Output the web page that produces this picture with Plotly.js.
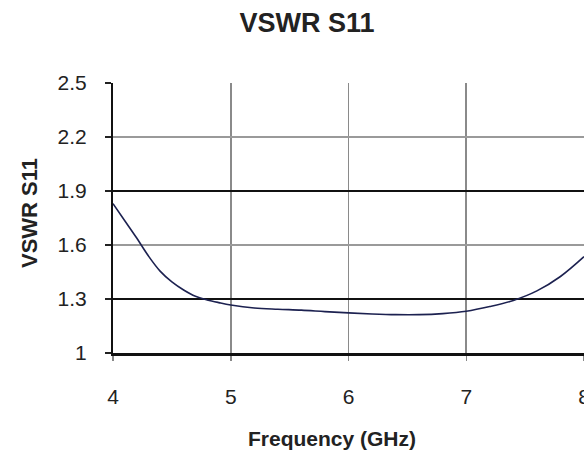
<!DOCTYPE html>
<html>
<head>
<meta charset="utf-8">
<script src="https://cdn.plot.ly/plotly-3.0.1.min.js"></script>
<style>html,body{margin:0;padding:0;background:#fff;}#chart{width:584px;height:451px;}</style>
</head>
<body>
<div id="chart"></div>
<script>
const freqGHz = [4.0, 4.1, 4.2, 4.3, 4.4, 4.5, 4.6, 4.7, 4.8, 4.9, 5.0, 5.2, 5.4, 5.6, 5.8, 6.0, 6.2, 6.4, 6.6, 6.8, 7.0, 7.2, 7.4, 7.6, 7.8, 8.0];
const vswrS11 = [1.83, 1.735, 1.64, 1.54, 1.455, 1.395, 1.35, 1.315, 1.295, 1.28, 1.267, 1.25, 1.243, 1.238, 1.23, 1.223, 1.217, 1.213, 1.213, 1.219, 1.232, 1.258, 1.292, 1.345, 1.425, 1.535];
const xTicks = [4, 5, 6, 7, 8];
const yTicks = [1, 1.3, 1.6, 1.9, 2.2, 2.5];
const yTickText = ['1', '1.3', '1.6', '1.9', '2.2', '2.5'];
const darkGridY = [1.3, 1.9];
const chartTitle = 'VSWR S11';
const xTitle = 'Frequency (GHz)';
const yTitle = 'VSWR S11';

const FONT = 'Liberation Sans, Arial, sans-serif';

const traces = [{
  x: freqGHz, y: vswrS11, type: 'scatter', mode: 'lines',
  line: {color: '#1c2150', width: 1.6, shape: 'spline', smoothing: 1},
  hoverinfo: 'skip', showlegend: false
}];

const layout = {
  width: 584, height: 451,
  margin: {l: 113, r: 0, t: 83, b: 98, pad: 0},
  paper_bgcolor: '#ffffff', plot_bgcolor: '#ffffff',
  font: {family: FONT, color: '#222222'},
  title: {text: '<b>' + chartTitle + '</b>', font: {family: FONT, size: 27, color: '#222222'},
          xref: 'paper', x: (307 - 113) / 471, xanchor: 'center',
          yref: 'container', y: 1 - 23 / 451, yanchor: 'middle'},
  xaxis: {
    range: [4, 8], tickvals: xTicks, ticktext: xTicks.map(String),
    showgrid: true, gridcolor: '#8a8a8a', gridwidth: 1.6,
    ticks: 'outside', ticklen: 5, tickcolor: '#888888', tickwidth: 1.5,
    ticklabelstandoff: 18, ticklabeloverflow: 'allow',
    tickfont: {family: FONT, size: 21, color: '#222222'},
    showline: true, linecolor: '#111111', linewidth: 2.5,
    zeroline: false, fixedrange: true
  },
  yaxis: {
    range: [1, 2.5], tickvals: yTicks, ticktext: yTickText,
    showgrid: true, gridcolor: '#9a9a9a', gridwidth: 2,
    ticks: 'outside', ticklen: 6, tickcolor: '#222222', tickwidth: 1.5,
    ticklabelstandoff: 14,
    tickfont: {family: FONT, size: 21, color: '#222222'},
    showline: true, linecolor: '#111111', linewidth: 2,
    zeroline: false, fixedrange: true
  },
  yaxis2: {
    range: [1, 2.5], overlaying: 'y', tickvals: darkGridY,
    showticklabels: false, showgrid: true, gridcolor: '#111111', gridwidth: 1.3,
    ticks: '', showline: false, zeroline: false, fixedrange: true
  },
  annotations: [
    {text: '<b>' + xTitle + '</b>', xref: 'paper', yref: 'paper',
     x: (332 - 113) / 471, y: -(438 - 353) / 270, xanchor: 'center', yanchor: 'middle',
     showarrow: false, font: {family: FONT, size: 21, color: '#222222'}},
    {text: '<b>' + yTitle + '</b>', xref: 'paper', yref: 'paper', textangle: -90,
     x: (29 - 113) / 471, y: (353 - 213) / 270, xanchor: 'center', yanchor: 'middle',
     showarrow: false, font: {family: FONT, size: 22, color: '#222222'}}
  ]
};

traces.push({x: [4], y: [1], yaxis: 'y2', type: 'scatter', mode: 'markers',
  marker: {opacity: 0}, hoverinfo: 'skip', showlegend: false});

Plotly.newPlot('chart', traces, layout, {staticPlot: true, displayModeBar: false});
</script>
</body>
</html>
